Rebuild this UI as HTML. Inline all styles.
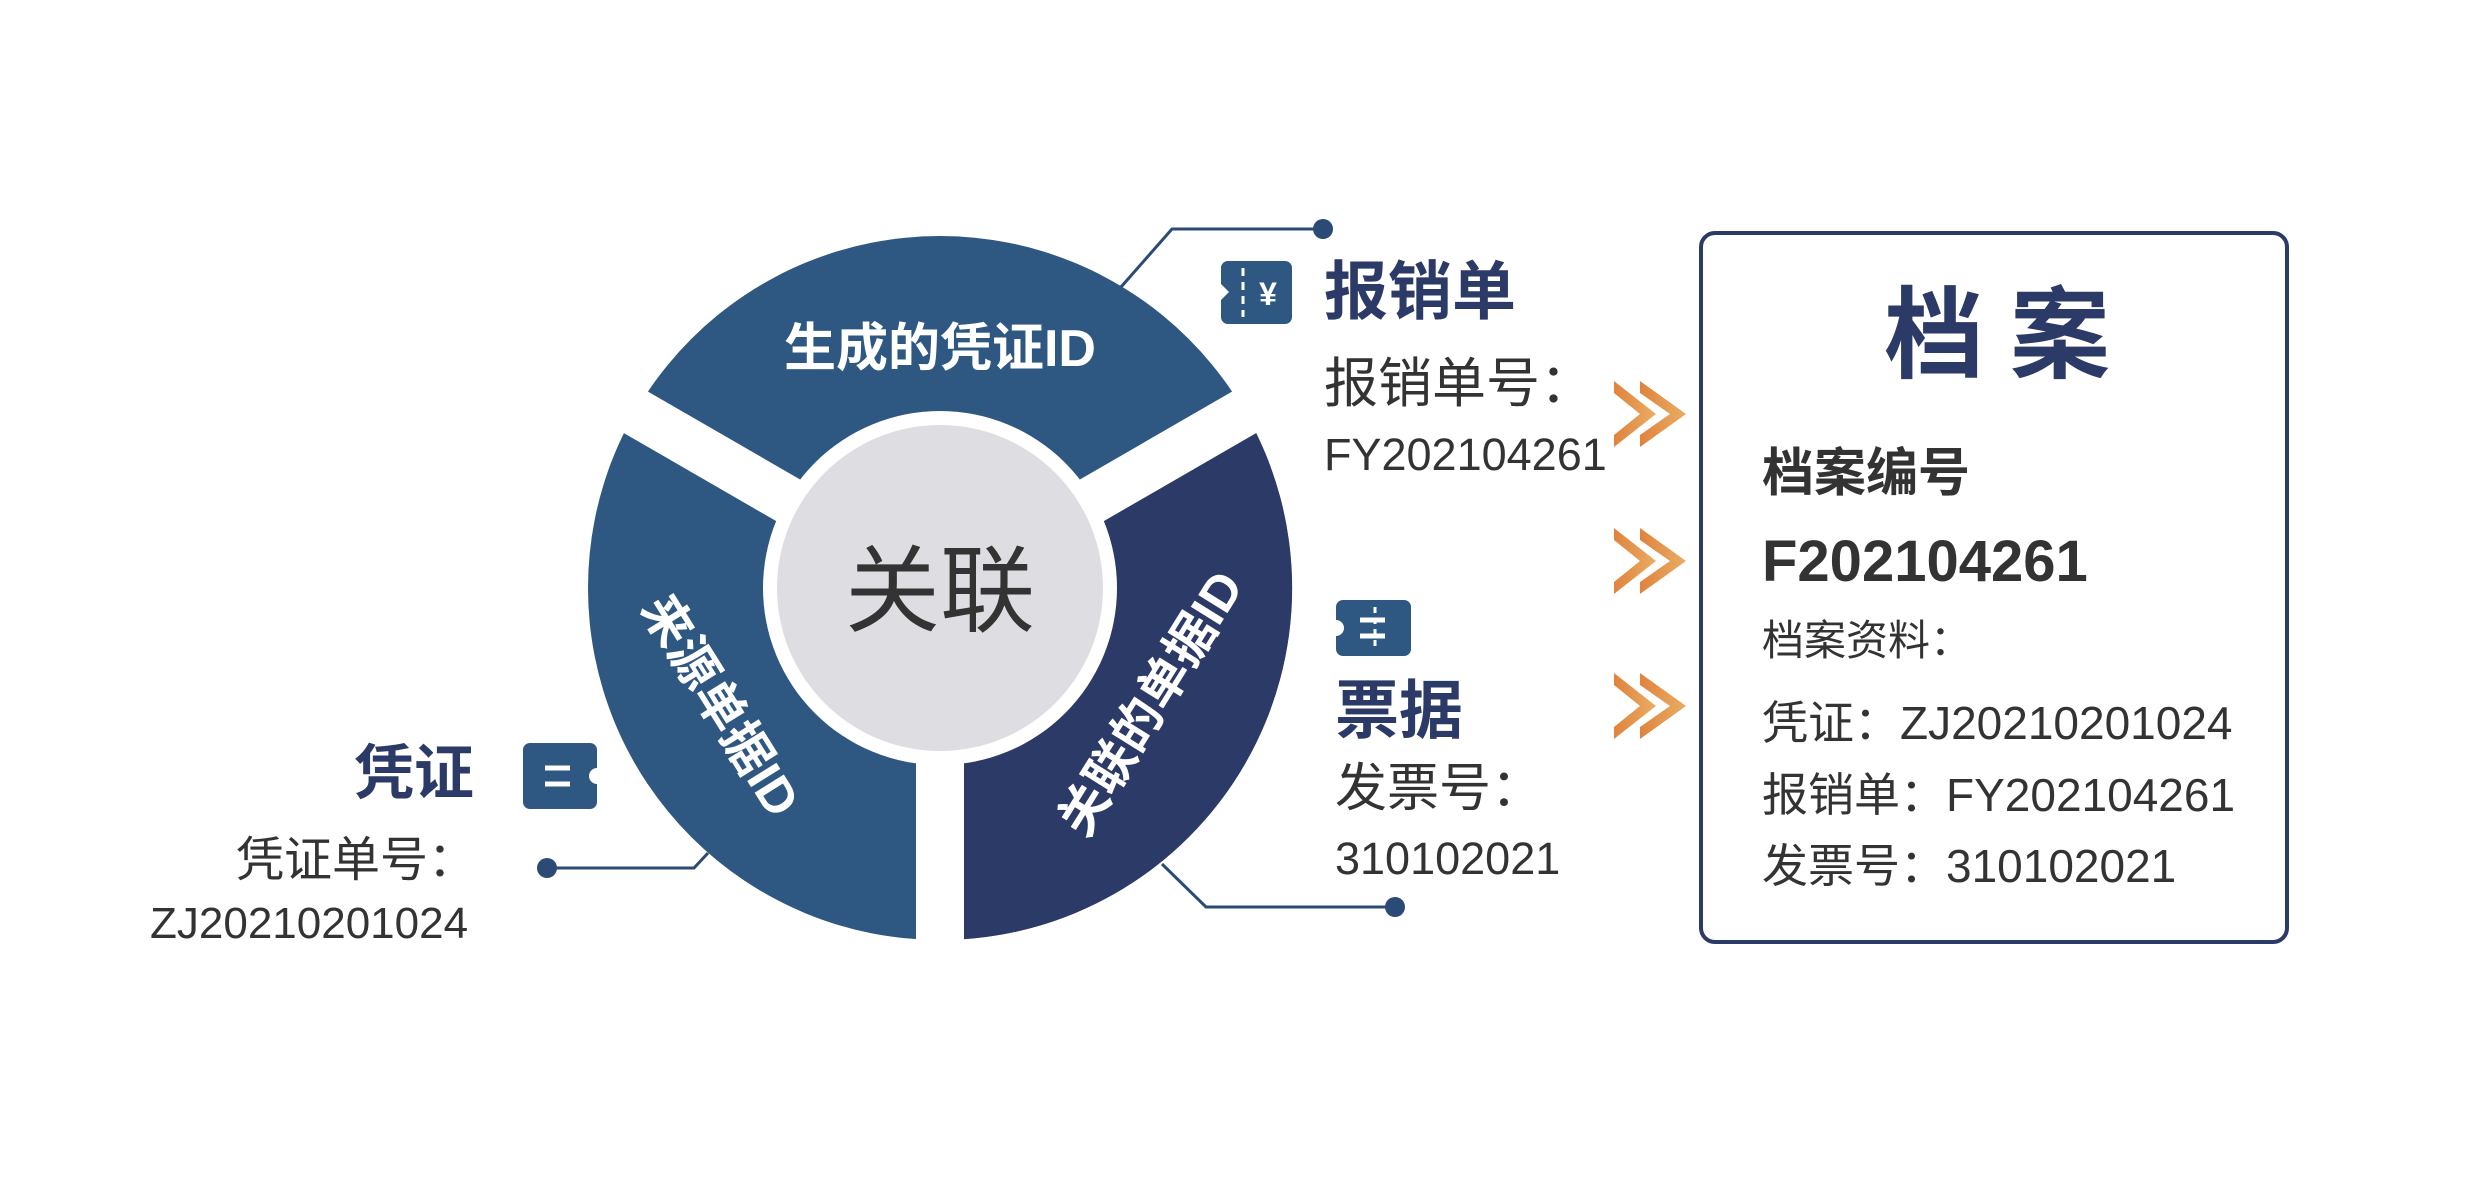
<!DOCTYPE html>
<html><head><meta charset="utf-8"><style>
html,body{margin:0;padding:0;background:#fff;}
body{width:2478px;height:1184px;position:relative;overflow:hidden;font-family:"Liberation Sans","Noto Sans CJK SC",sans-serif;}
.t{position:absolute;white-space:nowrap;line-height:1;}
</style></head><body>
<svg width="2478" height="1184" style="position:absolute;left:0;top:0">
<defs>
<linearGradient id="og" x1="0" x2="1" y1="0" y2="0"><stop offset="0" stop-color="#e0833f"/><stop offset="1" stop-color="#e9ad62"/></linearGradient>
</defs>
<circle cx="940" cy="588" r="352" fill="#2e5882"/>
<path d="M940,588 L1245,412 A352,352 0 0,1 940,940 Z" fill="#2b3a66"/>
<g stroke="#fff" stroke-width="48">
<line x1="940" y1="588" x2="940" y2="960"/>
<line x1="940" y1="588" x2="618" y2="402"/>
<line x1="940" y1="588" x2="1262" y2="402"/>
</g>
<circle cx="940" cy="588" r="177" fill="#fff"/>
<circle cx="940" cy="588" r="163" fill="#dddde2"/>
<text x="940" y="366" font-size="52" font-weight="bold" fill="#fff" text-anchor="middle" font-family="Liberation Sans, Noto Sans CJK SC, sans-serif">生成的凭证ID</text>
<text x="940" y="624" font-size="95" fill="#333" text-anchor="middle" font-family="Liberation Sans, Noto Sans CJK SC, sans-serif">关联</text>
<text transform="translate(721,705) rotate(58)" y="18" font-size="50" font-weight="bold" fill="#fff" text-anchor="middle" font-family="Liberation Sans, Noto Sans CJK SC, sans-serif">来源单据ID</text>
<text transform="translate(1150,703) rotate(-58)" y="18" font-size="50" font-weight="bold" fill="#fff" text-anchor="middle" font-family="Liberation Sans, Noto Sans CJK SC, sans-serif">关联的单据ID</text>
<g stroke="#2b4a75" stroke-width="3" fill="none">
<polyline points="547,868 694,868 708,853"/>
<polyline points="1323,229 1172,229 1121,287"/>
<polyline points="1162,864 1206,907 1395,907"/>
</g>
<g fill="#2b4a75">
<circle cx="547" cy="868" r="10"/><circle cx="1323" cy="229" r="10"/><circle cx="1395" cy="907" r="10"/>
</g>
<g fill="#2e5882">
<path d="M530,743 H590 a7,7 0 0 1 7,7 V768 a8,8 0 0 0 0,16 V802 a7,7 0 0 1 -7,7 H530 a7,7 0 0 1 -7,-7 V750 a7,7 0 0 1 7,-7Z"/>
<path d="M1228,261 H1285 a7,7 0 0 1 7,7 V317 a7,7 0 0 1 -7,7 H1228 a7,7 0 0 1 -7,-7 V300 l8,-8 l-8,-8 V268 a7,7 0 0 1 7,-7Z"/>
<path d="M1343,600 H1404 a7,7 0 0 1 7,7 V649 a7,7 0 0 1 -7,7 H1343 a7,7 0 0 1 -7,-7 V636 a8,8 0 0 0 0,-16 V607 a7,7 0 0 1 7,-7Z"/>
</g>
<g stroke="#fff" stroke-width="5">
<line x1="545" y1="768" x2="570" y2="768"/><line x1="545" y1="784" x2="570" y2="784"/>
<line x1="1360" y1="620" x2="1385" y2="620"/><line x1="1360" y1="636" x2="1385" y2="636"/>
<line x1="1243" y1="268" x2="1243" y2="317" stroke-dasharray="8 6" stroke-width="3"/>
<line x1="1375" y1="607" x2="1375" y2="649" stroke-width="3" stroke-dasharray="6 5"/>
</g>
<text x="1268" y="305" font-size="32" fill="#fff" text-anchor="middle" font-weight="bold" font-family="Liberation Sans, sans-serif">¥</text>
<g fill="url(#og)">
<g transform="translate(1614,414)"><polygon points="0,-33 42,0 0,33 0,21 26,0 0,-21"/><polygon points="26,-33 72,0 26,33 26,21 56,0 26,-21"/></g>
<g transform="translate(1614,561)"><polygon points="0,-33 42,0 0,33 0,21 26,0 0,-21"/><polygon points="26,-33 72,0 26,33 26,21 56,0 26,-21"/></g>
<g transform="translate(1614,706)"><polygon points="0,-33 42,0 0,33 0,21 26,0 0,-21"/><polygon points="26,-33 72,0 26,33 26,21 56,0 26,-21"/></g>
</g>
<rect x="1701" y="233" width="586" height="709" rx="14" fill="none" stroke="#2b3a66" stroke-width="4"/>
</svg>
<div class="t" style="left:354px;top:744px;font-size:60px;color:#2b3a66;font-weight:bold">凭证</div>
<div class="t" style="left:236px;top:837px;font-size:48px;color:#333">凭证单号：</div>
<div class="t" style="left:150px;top:902px;font-size:44px;color:#333">ZJ20210201024</div>
<div class="t" style="left:1324px;top:260px;font-size:64px;color:#2b3a66;font-weight:bold">报销单</div>
<div class="t" style="left:1324px;top:357px;font-size:54px;color:#333">报销单号：</div>
<div class="t" style="left:1324px;top:432px;font-size:45px;color:#333">FY202104261</div>
<div class="t" style="left:1335px;top:679px;font-size:64px;color:#2b3a66;font-weight:bold">票据</div>
<div class="t" style="left:1335px;top:763px;font-size:52px;color:#333">发票号：</div>
<div class="t" style="left:1335px;top:836px;font-size:45px;color:#333">310102021</div>
<div class="t" style="left:1884px;top:286px;font-size:100px;color:#2b3a66;font-weight:bold;letter-spacing:26px">档案</div>
<div class="t" style="left:1762px;top:448px;font-size:52px;color:#333;font-weight:bold">档案编号</div>
<div class="t" style="left:1762px;top:533px;font-size:58px;color:#333;font-weight:bold">F202104261</div>
<div class="t" style="left:1762px;top:620px;font-size:42px;color:#333">档案资料：</div>
<div class="t" style="left:1762px;top:700px;font-size:46px;color:#333">凭证：ZJ20210201024</div>
<div class="t" style="left:1762px;top:772px;font-size:46px;color:#333">报销单：FY202104261</div>
<div class="t" style="left:1762px;top:843px;font-size:46px;color:#333">发票号：310102021</div>
</body></html>
